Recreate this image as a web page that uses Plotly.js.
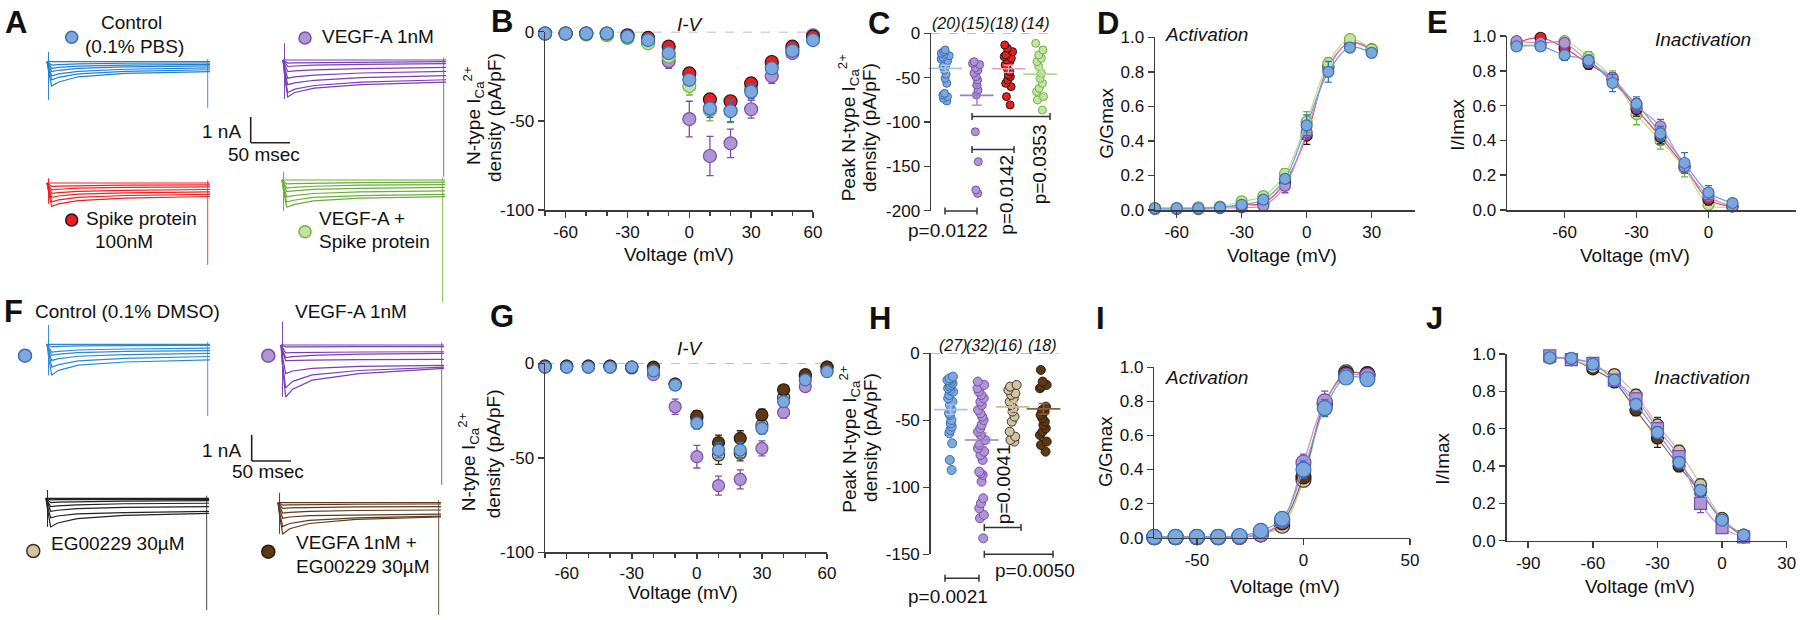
<!DOCTYPE html>
<html><head><meta charset="utf-8">
<script src="https://cdn.plot.ly/plotly-3.0.1.min.js"></script>
<style>html,body{margin:0;padding:0;background:#fff}#chart{width:1800px;height:620px}</style>
</head><body><div id="chart"></div>
<script>
// ======================= DATA =======================
// Panels A / F : representative current traces (nA) sampled at traceTime (ms)
const traceTime = [0, 2, 6, 15, 40, 100, 209];
const onsetTime = 2;
const tailTime = 206;

const aCtrlTraces = [
  [0, 0, 0, 0, 0, 0, 0],
  [0, -0.05, -0.13, -0.11, -0.08, -0.06, -0.05],
  [0, -0.10, -0.26, -0.22, -0.17, -0.13, -0.10],
  [0, -0.15, -0.38, -0.33, -0.26, -0.20, -0.16],
  [0, -0.22, -0.55, -0.47, -0.37, -0.29, -0.24],
  [0, -0.28, -0.70, -0.60, -0.47, -0.37, -0.31],
  [0, -0.38, -0.94, -0.78, -0.58, -0.45, -0.38]
];
const aVegfTraces = [
  [0, 0, 0, 0, 0, 0, 0],
  [0, -0.05, -0.12, -0.11, -0.10, -0.08, -0.06],
  [0, -0.10, -0.25, -0.23, -0.20, -0.17, -0.14],
  [0, -0.18, -0.45, -0.42, -0.38, -0.33, -0.28],
  [0, -0.28, -0.70, -0.65, -0.58, -0.50, -0.44],
  [0, -0.38, -0.95, -0.88, -0.78, -0.68, -0.60],
  [0, -0.50, -1.25, -1.12, -0.98, -0.85, -0.76],
  [0, -0.58, -1.42, -1.25, -1.08, -0.95, -0.85]
];
const aSpikeTraces = [
  [0, 0, 0, 0, 0, 0, 0],
  [0, -0.05, -0.13, -0.12, -0.10, -0.08, -0.07],
  [0, -0.10, -0.26, -0.24, -0.20, -0.17, -0.15],
  [0, -0.15, -0.40, -0.37, -0.32, -0.28, -0.25],
  [0, -0.22, -0.55, -0.50, -0.43, -0.38, -0.34],
  [0, -0.28, -0.72, -0.65, -0.55, -0.48, -0.44],
  [0, -0.36, -0.90, -0.80, -0.68, -0.58, -0.52]
];
const aComboTraces = [
  [0, 0, 0, 0, 0, 0, 0],
  [0, -0.06, -0.15, -0.14, -0.12, -0.10, -0.08],
  [0, -0.12, -0.30, -0.28, -0.24, -0.20, -0.18],
  [0, -0.18, -0.45, -0.42, -0.36, -0.32, -0.28],
  [0, -0.26, -0.65, -0.60, -0.52, -0.46, -0.42],
  [0, -0.34, -0.85, -0.78, -0.67, -0.60, -0.55],
  [0, -0.42, -1.05, -0.95, -0.80, -0.70, -0.64]
];
const fCtrlTraces = [
  [0, 0, 0, 0, 0, 0, 0],
  [0, -0.04, -0.10, -0.08, -0.06, -0.05, -0.04],
  [0, -0.12, -0.30, -0.27, -0.22, -0.18, -0.15],
  [0, -0.17, -0.42, -0.38, -0.32, -0.27, -0.24],
  [0, -0.25, -0.62, -0.55, -0.46, -0.40, -0.35],
  [0, -0.35, -0.88, -0.78, -0.64, -0.54, -0.47],
  [0, -0.48, -1.18, -1.00, -0.80, -0.68, -0.60]
];
const fVegfTraces = [
  [0, 0, 0, 0, 0, 0, 0],
  [0, -0.03, -0.07, -0.07, -0.06, -0.06, -0.06],
  [0, -0.12, -0.30, -0.29, -0.28, -0.27, -0.26],
  [0, -0.20, -0.48, -0.45, -0.40, -0.35, -0.32],
  [0, -0.25, -0.60, -0.60, -0.58, -0.56, -0.55],
  [0, -0.45, -1.10, -1.00, -0.90, -0.82, -0.78],
  [0, -0.70, -1.65, -1.40, -1.15, -0.98, -0.85],
  [0, -0.85, -2.00, -1.70, -1.35, -1.10, -0.90]
];
const fEgTraces = [
  [0, 0, 0, 0, 0, 0, 0],
  [0, -0.03, -0.06, -0.05, -0.05, -0.04, -0.04],
  [0, -0.07, -0.17, -0.15, -0.13, -0.11, -0.09],
  [0, -0.13, -0.32, -0.29, -0.25, -0.21, -0.19],
  [0, -0.20, -0.50, -0.46, -0.40, -0.35, -0.32],
  [0, -0.30, -0.75, -0.68, -0.60, -0.55, -0.50],
  [0, -0.44, -1.10, -0.95, -0.78, -0.66, -0.58]
];
const fVegfEgTraces = [
  [0, 0, 0, 0, 0, 0, 0],
  [0, -0.04, -0.09, -0.08, -0.07, -0.06, -0.05],
  [0, -0.09, -0.22, -0.20, -0.18, -0.16, -0.15],
  [0, -0.16, -0.40, -0.37, -0.33, -0.30, -0.28],
  [0, -0.24, -0.60, -0.55, -0.50, -0.47, -0.44],
  [0, -0.37, -0.92, -0.80, -0.68, -0.58, -0.52],
  [0, -0.48, -1.20, -1.00, -0.80, -0.64, -0.55]
];
// capacitive onset transient and tail current extremes (nA)
const aCtrlOnset = [0.38, -1.47],  aCtrlTail = [0.1, -1.78];
const aVegfOnset = [0.64, -1.5],   aVegfTail = [0.1, -4.49];
const aSpikeOnset = [0.18, -0.8],  aSpikeTail = [0.1, -3.15];
const aComboOnset = [0.32, -1.2],  aComboTail = [0.1, -4.7];
const fCtrlOnset = [0.74, -1.2],   fCtrlTail = [0.1, -2.76];
const fVegfOnset = [0.9, -2.0],    fVegfTail = [0.1, -5.38];
const fEgOnset = [0.32, -1.1],     fEgTail = [0.1, -4.3];
const fVegfEgOnset = [0.38, -1.2], fVegfEgTail = [0.1, -4.32];

// Panels B / G : I-V (pA/pF)
const voltIV = [-70, -60, -50, -40, -30, -20, -10, 0, 10, 20, 30, 40, 50, 60];
const bCtrl  = [-1, -1, -1, -1, -2.8, -4.7, -12, -27, -43, -44.5, -33.6, -20.5, -10.7, -4.7];
const bVegf  = [-1, -1, -1, -1.5, -2.5, -6, -16.5, -49, -69.7, -62.6, -43.5, -24.9, -12, -2];
const bSpike = [-1, -1, -1, -1, -2, -3.5, -8.4, -23.4, -38, -39, -29, -17, -8.4, -2.8];
const bCombo = [-1, -1, -1.5, -2, -3.5, -6.5, -14, -30.5, -44, -44, -32, -18, -10, -3];
const bCtrlSem  = [0.2, 0.2, 0.2, 0.2, 0.4, 0.8, 2, 3, 5, 6, 4, 3, 2, 1];
const bVegfSem  = [0.2, 0.2, 0.2, 0.3, 0.5, 1, 4, 10, 11, 8, 5, 4, 2, 1];
const bSpikeSem = [0.2, 0.2, 0.2, 0.2, 0.4, 0.8, 2, 3, 3, 3, 3, 2, 1.5, 1];
const bComboSem = [0.2, 0.2, 0.2, 0.3, 0.5, 1, 2.5, 5, 6, 7, 4, 3, 2, 1];

const gCtrl   = [-2, -2, -2, -2, -2, -4, -11.5, -31.7, -46, -45.9, -34.4, -20.3, -8.8, -4.4];
const gVegf   = [-2, -2, -2, -2, -2.5, -6, -23, -49.4, -64.7, -61.4, -45, -26, -12.3, -3.9];
const gEg     = [-1.5, -1.5, -1.5, -1.5, -2, -3, -11, -29, -48.5, -47.6, -32.6, -18, -7, -2];
const gVegfEg = [-1.5, -1.5, -1.5, -1.5, -2, -2, -11, -28, -42, -39.7, -27.3, -14, -6, -2];
const gCtrlSem   = [0.3, 0.3, 0.3, 0.3, 0.5, 0.8, 2, 3, 4, 4, 3, 2, 1, 0.5];
const gVegfSem   = [0.3, 0.3, 0.3, 0.3, 0.5, 1, 4, 6, 5, 5, 4, 3, 2, 1];
const gEgSem     = [0.3, 0.3, 0.3, 0.3, 0.5, 0.8, 2, 4, 5, 4, 3, 2, 1, 0.5];
const gVegfEgSem = [0.3, 0.3, 0.3, 0.3, 0.5, 0.8, 2, 3, 4, 4, 3, 2, 1, 0.5];

// Panels C / H : peak current density per cell (pA/pF)
const cGroups = ['Control', 'VEGF-A', 'Spike', 'VEGF-A + Spike'];
const cCtrl  = [-18.8, -20.7, -22.6, -23.7, -25.2, -27, -29, -30.8, -32.7, -35, -37.6, -41.4, -46.2, -50.8, -56.4, -67.7, -69.5, -71.4, -73.3, -76.3];
const cVegf  = [-32, -34, -35.3, -38.7, -41.4, -45, -48.9, -52.6, -58.3, -63.9, -69.5, -111, -144.7, -176.7, -180.5];
const cSpike = [-13.2, -16.9, -20.7, -24.4, -26.3, -28.2, -30.1, -32, -35.7, -39.5, -43.2, -47, -48.9, -52.6, -56.4, -60.2, -71.4, -80.8];
const cCombo = [-11.3, -18.8, -24.4, -28.2, -32, -37.6, -45.1, -50.8, -56.4, -62, -65.8, -71.4, -75.2, -86.5];
const cMeans = [-39.5, -70, -40, -46];
const cSem   = [3.5, 11, 4, 5];
const cNs    = ['(20)', '(15)', '(18)', '(14)'];
const cPvals = ['p=0.0122', 'p=0.0142', 'p=0.0353'];

const hGroups = ['Control', 'VEGF-A', 'EG00229', 'VEGFA + EG00229'];
const hCtrl = [-17.4, -18.7, -18.7, -19.9, -19.9, -21.1, -22.4, -23.6, -24.9, -26.1, -27.4, -28.6, -31.1, -33.6, -36.1, -38.6, -42.3, -44.8, -46, -49.8, -52.2, -54.7, -57.2, -59.7, -67.2, -79.6, -87.1];
const hVegf = [-21.1, -23.6, -26.1, -28.6, -31.1, -33.6, -36.1, -38.6, -42.3, -44.8, -47.3, -49.8, -53.5, -56, -58.5, -61, -64.7, -68.4, -70.9, -73.4, -75.9, -79.6, -88.3, -89.6, -90.8, -95.8, -108.2, -111.9, -115.7, -120.6, -123.1, -138.1];
const hEg = [-23.6, -24.9, -27.4, -29.9, -31.1, -33.6, -36.1, -38.6, -41, -43.5, -47.3, -51, -58.5, -62.2, -64.7, -65.9];
const hVegfEg = [-12.4, -21.1, -23.6, -24.9, -26.1, -39.8, -42.3, -43.5, -46, -48.5, -51, -53.5, -56, -58.5, -61, -65.9, -68.4, -73.4];
const hMeans = [-42, -64.7, -40, -41.5];
const hSem   = [3.5, 5, 3.5, 4];
const hNs    = ['(27)', '(32)', '(16)', '(18)'];
const hPvals = ['p=0.0021', 'p=0.0041', 'p=0.0050'];

// Panels D / I : activation (G/Gmax)
const voltAct = [-70, -60, -50, -40, -30, -20, -10, 0, 10, 20, 30];
const dCtrl  = [0.01, 0.01, 0.01, 0.015, 0.03, 0.06, 0.18, 0.49, 0.80, 0.94, 0.91];
const dVegf  = [0.005, 0.005, 0.005, 0.01, 0.015, 0.025, 0.14, 0.45, 0.82, 0.97, 0.92];
const dSpike = [0.01, 0.01, 0.01, 0.015, 0.03, 0.04, 0.16, 0.43, 0.83, 0.97, 0.93];
const dCombo = [0.01, 0.01, 0.015, 0.02, 0.05, 0.08, 0.21, 0.51, 0.85, 0.99, 0.93];
const dCtrlSem  = [0, 0, 0, 0, 0.01, 0.01, 0.02, 0.06, 0.06, 0.02, 0.01];
const dVegfSem  = [0, 0, 0, 0, 0.01, 0.01, 0.04, 0.04, 0.03, 0.01, 0.01];
const dSpikeSem = [0, 0, 0, 0, 0.01, 0.01, 0.02, 0.05, 0.03, 0.01, 0.01];
const dComboSem = [0, 0, 0, 0, 0.01, 0.01, 0.03, 0.06, 0.03, 0.01, 0.01];

const iCtrl   = [0.005, 0.005, 0.005, 0.005, 0.01, 0.04, 0.11, 0.40, 0.76, 0.94, 0.93];
const iVegf   = [0.003, 0.003, 0.003, 0.003, 0.005, 0.02, 0.10, 0.44, 0.80, 0.95, 0.95];
const iEg     = [0.003, 0.003, 0.003, 0.003, 0.005, 0.02, 0.07, 0.34, 0.78, 0.97, 0.95];
const iVegfEg = [0.003, 0.003, 0.003, 0.003, 0.005, 0.02, 0.09, 0.36, 0.79, 0.96, 0.96];
const iCtrlSem   = [0, 0, 0, 0, 0, 0.01, 0.02, 0.05, 0.05, 0.02, 0.01];
const iVegfSem   = [0, 0, 0, 0, 0, 0.01, 0.02, 0.05, 0.06, 0.02, 0.01];
const iEgSem     = [0, 0, 0, 0, 0, 0.01, 0.02, 0.04, 0.05, 0.02, 0.01];
const iVegfEgSem = [0, 0, 0, 0, 0, 0.01, 0.02, 0.04, 0.05, 0.02, 0.01];

// Panels E / J : inactivation (I/Imax)
const voltInact = [-80, -70, -60, -50, -40, -30, -20, -10, 0, 10];
const eCtrl  = [0.94, 0.94, 0.89, 0.86, 0.73, 0.61, 0.44, 0.27, 0.10, 0.04];
const eVegf  = [0.97, 0.96, 0.96, 0.85, 0.76, 0.60, 0.48, 0.25, 0.08, 0.02];
const eSpike = [0.96, 0.99, 0.93, 0.84, 0.75, 0.58, 0.42, 0.25, 0.06, 0.02];
const eCombo = [0.95, 0.95, 0.97, 0.88, 0.76, 0.55, 0.40, 0.24, 0.03, 0.02];
const eCtrlSem  = [0.01, 0.01, 0.03, 0.03, 0.05, 0.04, 0.04, 0.06, 0.04, 0.01];
const eVegfSem  = [0.01, 0.01, 0.02, 0.03, 0.03, 0.04, 0.04, 0.04, 0.03, 0.01];
const eSpikeSem = [0.01, 0.01, 0.02, 0.03, 0.03, 0.04, 0.04, 0.04, 0.03, 0.01];
const eComboSem = [0.01, 0.01, 0.02, 0.03, 0.04, 0.06, 0.05, 0.05, 0.02, 0.01];

const jCtrl   = [0.98, 0.977, 0.946, 0.86, 0.73, 0.58, 0.42, 0.27, 0.11, 0.03];
const jVegf   = [0.99, 0.97, 0.95, 0.86, 0.76, 0.60, 0.45, 0.20, 0.07, 0.02];
const jEg     = [0.98, 0.97, 0.93, 0.89, 0.78, 0.62, 0.48, 0.30, 0.12, 0.03];
const jVegfEg = [0.98, 0.97, 0.92, 0.85, 0.70, 0.55, 0.40, 0.26, 0.11, 0.02];
const jCtrlSem   = [0.01, 0.01, 0.01, 0.02, 0.03, 0.03, 0.03, 0.03, 0.02, 0.01];
const jVegfSem   = [0.01, 0.01, 0.01, 0.02, 0.03, 0.03, 0.03, 0.05, 0.02, 0.01];
const jEgSem     = [0.01, 0.01, 0.01, 0.02, 0.03, 0.04, 0.03, 0.03, 0.02, 0.01];
const jVegfEgSem = [0.01, 0.01, 0.01, 0.02, 0.03, 0.05, 0.03, 0.03, 0.02, 0.01];

// tick labels
const ivXTicks = [-60, -30, 0, 30, 60],   ivXText = ['-60', '-30', '0', '30', '60'];
const ivYTicks = [-100, -50, 0],          ivYText = ['-100', '-50', '0'];
const cYTicks = [-200, -150, -100, -50, 0], cYText = ['-200', '-150', '-100', '-50', '0'];
const hYTicks = [-150, -100, -50, 0],     hYText = ['-150', '-100', '-50', '0'];
const normTicks = [0, 0.2, 0.4, 0.6, 0.8, 1.0], normText = ['0.0', '0.2', '0.4', '0.6', '0.8', '1.0'];
const dXTicks = [-60, -30, 0, 30],  dXText = ['-60', '-30', '0', '30'];
const eXTicks = [-60, -30, 0],      eXText = ['-60', '-30', '0'];
const iXTicks = [-50, 0, 50],       iXText = ['-50', '0', '50'];
const jXTicks = [-90, -60, -30, 0, 30], jXText = ['-90', '-60', '-30', '0', '30'];

// ======================= STYLE / LAYOUT =======================
const FONT = 'Liberation Sans, Arial, Helvetica, sans-serif';
const W = 1800, H = 620;
const fx = p => p / W;
const fy = p => 1 - p / H;

const ST = {
  ctrl:   {fill: '#7EA7DB', edge: '#3570B8', fit: '#6E9FDC', mean: '#A8C4E8'},
  vegf:   {fill: '#AE95D4', edge: '#7A4DB2', fit: '#D08BD6', mean: '#9A7CC8'},
  spike:  {fill: '#EE1D1D', edge: '#1A1A1A', fit: '#E04848', mean: '#E8A0B0'},
  combo:  {fill: '#C4E2A3', edge: '#6FB43F', fit: '#B5DC8C', mean: '#B5DA92'},
  eg:     {fill: '#D2C3A3', edge: '#3B3428', fit: '#CDBE98', mean: '#CDBE98'},
  vegfEg: {fill: '#5C3815', edge: '#2F1B08', fit: '#8A6040', mean: '#8A6040'}
};

const traces = [];
const layout = {
  width: W, height: H, margin: {l: 0, r: 0, t: 0, b: 0},
  paper_bgcolor: '#ffffff', plot_bgcolor: 'rgba(0,0,0,0)', showlegend: false,
  font: {family: FONT, size: 17, color: '#111'},
  shapes: [], annotations: []
};

function axId(n) { return n === 1 ? '' : String(n); }
function addAxes(n, x0, x1, yTop, yBot, xo, yo) {
  layout['xaxis' + axId(n)] = Object.assign({}, xo, {domain: [fx(x0), fx(x1)], anchor: 'y' + axId(n)});
  layout['yaxis' + axId(n)] = Object.assign({}, yo, {domain: [fy(yBot), fy(yTop)], anchor: 'x' + axId(n)});
}
const axBase = {showline: true, linecolor: '#3c3c3c', linewidth: 1.5, ticks: 'outside', ticklen: 6,
  tickwidth: 1.5, tickcolor: '#3c3c3c', showgrid: false, zeroline: false,
  tickfont: {family: FONT, size: 17, color: '#111'}, fixedrange: true, tickmode: 'array'};
function ax(o) { return Object.assign({}, axBase, o); }

// ---------- A / F trace groups ----------
const MS_PX = 0.78, NA_PX = 26;
const traceGroups = [
  {data: aCtrlTraces,   onset: aCtrlOnset,   tail: aCtrlTail,   color: '#1F80D0', t0: 47,  y0: 61.7,  yMin: -2.0},
  {data: aVegfTraces,   onset: aVegfOnset,   tail: aVegfTail,   color: '#7B3FB5', t0: 283, y0: 60,    yMin: -4.6},
  {data: aSpikeTraces,  onset: aSpikeOnset,  tail: aSpikeTail,  color: '#F02020', t0: 47,  y0: 183,   yMin: -3.3},
  {data: aComboTraces,  onset: aComboOnset,  tail: aComboTail,  color: '#6AAE3A', t0: 282, y0: 180,   yMin: -4.8},
  {data: fCtrlTraces,   onset: fCtrlOnset,   tail: fCtrlTail,   color: '#2A8AD6', t0: 47,  y0: 344.3, yMin: -2.9},
  {data: fVegfTraces,   onset: fVegfOnset,   tail: fVegfTail,   color: '#7B3FB5', t0: 281, y0: 345,   yMin: -5.5},
  {data: fEgTraces,     onset: fEgOnset,     tail: fEgTail,     color: '#222222', t0: 46,  y0: 498.3, yMin: -4.4},
  {data: fVegfEgTraces, onset: fVegfEgOnset, tail: fVegfEgTail, color: '#5C3A1E', t0: 278, y0: 502.7, yMin: -4.4}
];
traceGroups.forEach((g, i) => {
  const n = i + 1, xr = 'x' + axId(n), yr = 'y' + axId(n);
  addAxes(n, g.t0 - 5 * MS_PX, g.t0 + 215 * MS_PX, g.y0 - NA_PX, g.y0 - g.yMin * NA_PX,
    {visible: false, range: [-5, 215], fixedrange: true},
    {visible: false, range: [g.yMin, 1], fixedrange: true});
  g.data.forEach(tr => traces.push({type: 'scatter', mode: 'lines', x: traceTime, y: tr, xaxis: xr, yaxis: yr,
    line: {color: g.color, width: 1.2}, hoverinfo: 'skip'}));
  traces.push({type: 'scatter', mode: 'lines', x: [onsetTime, onsetTime], y: g.onset, xaxis: xr, yaxis: yr,
    line: {color: g.color, width: 1}, hoverinfo: 'skip'});
  traces.push({type: 'scatter', mode: 'lines', x: [tailTime, tailTime], y: g.tail, xaxis: xr, yaxis: yr,
    line: {color: g.color, width: 1}, opacity: 0.85, hoverinfo: 'skip'});
});

// ---------- series helper ----------
function addSeries(n, x, y, sem, st, size, symbol, fit) {
  traces.push({type: 'scatter', mode: fit ? 'lines+markers' : 'markers', x: x, y: y,
    xaxis: 'x' + n, yaxis: 'y' + n, cliponaxis: false,
    line: {color: st.fit, width: 1.2, shape: 'spline', smoothing: 1},
    marker: {size: size, symbol: symbol || 'circle', color: st.fill, line: {color: st.edge, width: 1.2}},
    error_y: {type: 'data', array: sem, visible: true, color: st.edge, thickness: 1.3, width: 3.5},
    hoverinfo: 'x+y'});
}
const minorIV = {dtick: 10, tick0: 0, ticks: 'outside', ticklen: 4, tickwidth: 1.5, tickcolor: '#3c3c3c'};

// ---------- B (9) ----------
addAxes(9, 545, 813, 31.7, 210,
  ax({range: [-70, 60], tickvals: ivXTicks, ticktext: ivXText, minor: minorIV}),
  ax({range: [-100, 0], tickvals: ivYTicks, ticktext: ivYText}));
addSeries(9, voltIV, bVegf, bVegfSem, ST.vegf, 13);
addSeries(9, voltIV, bCombo, bComboSem, ST.combo, 13);
addSeries(9, voltIV, bSpike, bSpikeSem, ST.spike, 13);
addSeries(9, voltIV, bCtrl, bCtrlSem, ST.ctrl, 13);

// ---------- C (10) ----------
addAxes(10, 931, 1056, 33.3, 210.7,
  {visible: false, range: [-0.45, 3.5], fixedrange: true},
  ax({range: [-200, 0], tickvals: cYTicks, ticktext: cYText}));
function addDots(n, vals, idx, st, size, name) {
  traces.push({type: 'box', y: vals, x0: idx, name: name, xaxis: 'x' + n, yaxis: 'y' + n,
    boxpoints: 'all', jitter: 0.6, pointpos: 0, fillcolor: 'rgba(0,0,0,0)',
    line: {color: 'rgba(0,0,0,0)', width: 0}, whiskerwidth: 0,
    marker: {size: size, color: st.fill, line: {color: st.edge, width: 1}}, hoverinfo: 'y'});
}
function addMean(n, idx, mean, sem, st) {
  traces.push({type: 'scatter', mode: 'markers', x: [idx], y: [mean], xaxis: 'x' + n, yaxis: 'y' + n,
    cliponaxis: false,
    marker: {symbol: 'line-ew-open', size: 24, color: st.mean, line: {color: st.mean, width: 1.6}},
    error_y: {type: 'data', array: [sem], color: st.mean, thickness: 1.4, width: 5}, hoverinfo: 'y'});
}
const cStyles = [ST.ctrl, ST.vegf, ST.spike, ST.combo];
[cCtrl, cVegf, cSpike, cCombo].forEach((v, i) => addDots(10, v, i, cStyles[i], 8, cGroups[i]));
cMeans.forEach((m, i) => addMean(10, i, m, cSem[i], cStyles[i]));

// ---------- D (11) ----------
addAxes(11, 1155, 1415, 37.3, 210,
  ax({range: [-70, 50], tickvals: dXTicks, ticktext: dXText}),
  ax({range: [0, 1], tickvals: normTicks, ticktext: normText}));
addSeries(11, voltAct, dSpike, dSpikeSem, ST.spike, 11, 'circle', true);
addSeries(11, voltAct, dVegf, dVegfSem, ST.vegf, 11, 'circle', true);
addSeries(11, voltAct, dCombo, dComboSem, ST.combo, 11, 'circle', true);
addSeries(11, voltAct, dCtrl, dCtrlSem, ST.ctrl, 11, 'circle', true);

// ---------- E (12) ----------
addAxes(12, 1507, 1796, 36, 210,
  ax({range: [-84, 36.5], tickvals: eXTicks, ticktext: eXText}),
  ax({range: [0, 1], tickvals: normTicks, ticktext: normText}));
addSeries(12, voltInact, eCombo, eComboSem, ST.combo, 11, 'circle', true);
addSeries(12, voltInact, eSpike, eSpikeSem, ST.spike, 11, 'circle', true);
addSeries(12, voltInact, eVegf, eVegfSem, ST.vegf, 11, 'circle', true);
addSeries(12, voltInact, eCtrl, eCtrlSem, ST.ctrl, 11, 'circle', true);

// ---------- G (13) ----------
addAxes(13, 545, 827, 363.3, 552.3,
  ax({range: [-70, 60], tickvals: ivXTicks, ticktext: ivXText, minor: minorIV, ticklen: 5}),
  ax({range: [-100, 0], tickvals: ivYTicks, ticktext: ivYText}));
addSeries(13, voltIV, gVegf, gVegfSem, ST.vegf, 12);
addSeries(13, voltIV, gEg, gEgSem, ST.eg, 12);
addSeries(13, voltIV, gVegfEg, gVegfEgSem, ST.vegfEg, 12);
addSeries(13, voltIV, gCtrl, gCtrlSem, ST.ctrl, 12);

// ---------- H (14) ----------
addAxes(14, 930.7, 1059, 353.3, 554.3,
  {visible: false, range: [-0.65, 3.5], fixedrange: true},
  ax({range: [-150, 0], tickvals: hYTicks, ticktext: hYText}));
const hStyles = [ST.ctrl, ST.vegf, ST.eg, ST.vegfEg];
[hCtrl, hVegf, hEg, hVegfEg].forEach((v, i) => addDots(14, v, i, hStyles[i], 9, hGroups[i]));
hMeans.forEach((m, i) => addMean(14, i, m, hSem[i], hStyles[i]));

// ---------- I (15) ----------
addAxes(15, 1154.3, 1410, 367.3, 537.7,
  ax({range: [-70, 50], tickvals: iXTicks, ticktext: iXText}),
  ax({range: [0, 1], tickvals: normTicks, ticktext: normText}));
addSeries(15, voltAct, iEg, iEgSem, ST.eg, 15, 'circle', true);
addSeries(15, voltAct, iVegfEg, iVegfEgSem, ST.vegfEg, 15, 'circle', true);
addSeries(15, voltAct, iVegf, iVegfSem, ST.vegf, 15, 'circle', true);
addSeries(15, voltAct, iCtrl, iCtrlSem, ST.ctrl, 15, 'circle', true);

// ---------- J (16) ----------
addAxes(16, 1506.7, 1786.7, 354, 540.7,
  ax({range: [-100, 30], tickvals: jXTicks, ticktext: jXText}),
  ax({range: [0, 1], tickvals: normTicks, ticktext: normText}));
addSeries(16, voltInact, jVegfEg, jVegfEgSem, ST.vegfEg, 12, 'circle', true);
addSeries(16, voltInact, jEg, jEgSem, ST.eg, 12, 'circle', true);
addSeries(16, voltInact, jVegf, jVegfSem, ST.vegf, 12, 'square', true);
addSeries(16, voltInact, jCtrl, jCtrlSem, ST.ctrl, 12, 'circle', true);

// ---------- shapes ----------
const S = layout.shapes;
function dashedZero(n, x1) {
  S.push({type: 'line', xref: 'x' + n + ' domain', yref: 'y' + n, x0: 0, x1: x1, y0: 0, y1: 0,
    line: {color: '#AAAAAA', width: 1.6, dash: 'dash'}, layer: 'below'});
}
dashedZero(9, 1); dashedZero(13, 1); dashedZero(10, 0.93); dashedZero(14, 1);
function pline(x0, y0, x1, y1, color, w) {
  S.push({type: 'line', xref: 'paper', yref: 'paper', x0: fx(x0), y0: fy(y0), x1: fx(x1), y1: fy(y1),
    line: {color: color || '#333', width: w || 1.5}});
}
function bracket(x0, x1, y) { pline(x0, y, x1, y); pline(x0, y - 3.5, x0, y + 3.5); pline(x1, y - 3.5, x1, y + 3.5); }
bracket(945, 977, 211); bracket(972, 1014, 149.5); bracket(972, 1050, 116.5);
bracket(945, 979, 578.3); bracket(984.3, 1021, 527.5); bracket(984.3, 1053, 554.3);
// scale bars
pline(250.7, 117, 250.7, 142.7, '#222', 1.6); pline(250.7, 142.7, 290, 142.7, '#222', 1.6);
pline(251.7, 435, 251.7, 461, '#222', 1.6); pline(251.7, 461, 291, 461, '#222', 1.6);
function dot(cx, cy, d, st) {
  S.push({type: 'circle', xref: 'paper', yref: 'paper', x0: fx(cx - d / 2), x1: fx(cx + d / 2),
    y0: fy(cy + d / 2), y1: fy(cy - d / 2), fillcolor: st.fill, line: {color: st.edge, width: 1.5}});
}
dot(71.7, 37.3, 12, ST.ctrl); dot(305, 38, 12, ST.vegf); dot(71.7, 220, 12, ST.spike); dot(305, 231.7, 12, ST.combo);
dot(25, 355.7, 13, ST.ctrl); dot(268.3, 355.7, 13, ST.vegf); dot(33.3, 551, 13, ST.eg); dot(268.3, 551.7, 13, ST.vegfEg);

// ---------- text ----------
const A = layout.annotations;
function txt(text, x, y, o) {
  o = o || {};
  A.push({text: text, x: fx(x), y: fy(y), xref: 'paper', yref: 'paper', showarrow: false,
    xanchor: o.xa || 'center', yanchor: o.ya || 'middle', textangle: o.rot || 0,
    font: {family: FONT, size: o.size || 19, color: '#111'}});
}
// panel letters
[['A', 16, 22], ['B', 502, 21], ['C', 879, 23], ['D', 1108, 24], ['E', 1437, 22],
 ['F', 13, 312], ['G', 502, 317], ['H', 880, 318], ['I', 1100, 318], ['J', 1434, 318]]
  .forEach(p => txt('<b>' + p[0] + '</b>', p[1], p[2], {size: 31}));
// legends A
txt('Control', 131.7, 22); txt('(0.1% PBS)', 134, 46.7);
txt('VEGF-A 1nM', 320, 36, {xa: 'left'});
txt('Spike protein', 84, 218.3, {xa: 'left'}); txt('100nM', 124, 241.7);
txt('VEGF-A +', 316.7, 218.3, {xa: 'left'}); txt('Spike protein', 316.7, 241.7, {xa: 'left'});
txt('1 nA', 243, 131.7, {xa: 'right'}); txt('50 msec', 264.3, 154);
// legends F
txt('Control (0.1% DMSO)', 33, 312, {xa: 'left'});
txt('VEGF-A 1nM', 293, 312, {xa: 'left'});
txt('EG00229 30µM', 49, 543.3, {xa: 'left'});
txt('VEGFA 1nM +', 294, 542.3, {xa: 'left'}); txt('EG00229 30µM', 294, 566.7, {xa: 'left'});
txt('1 nA', 243, 450, {xa: 'right'}); txt('50 msec', 267.8, 472);
// I-V labels
txt('<i>I-V</i>', 690, 25); txt('<i>I-V</i>', 690, 348);
// axis titles
const IV_T1 = 'N-type I<sub>Ca</sub><sup>2+</sup>', IV_T2 = 'density (pA/pF)';
txt(IV_T1, 473, 116, {rot: -90}); txt(IV_T2, 495, 118, {rot: -90});
txt('Peak ' + IV_T1, 848.3, 127, {rot: -90}); txt(IV_T2, 870, 128, {rot: -90});
txt(IV_T1, 468.3, 462, {rot: -90}); txt(IV_T2, 493.3, 454, {rot: -90});
txt('Peak ' + IV_T1, 850, 438.7, {rot: -90}); txt(IV_T2, 870, 438, {rot: -90});
txt('G/Gmax', 1106.7, 123, {rot: -90}); txt('I/Imax', 1456.7, 125, {rot: -90});
txt('G/Gmax', 1105, 452, {rot: -90}); txt('I/Imax', 1441.7, 459, {rot: -90});
[[679, 254], [1281.7, 255], [1635, 255], [683, 592], [1285, 586.7], [1640, 586.7]]
  .forEach(p => txt('Voltage (mV)', p[0], p[1]));
txt('<i>Activation</i>', 1163, 35, {xa: 'left'}); txt('<i>Inactivation</i>', 1653, 40, {xa: 'left'});
txt('<i>Activation</i>', 1163, 378, {xa: 'left'}); txt('<i>Inactivation</i>', 1652, 378, {xa: 'left'});
// n labels
[946, 975, 1004, 1035].forEach((x, i) => txt('<i>' + cNs[i] + '</i>', x, 24, {size: 16}));
[953, 980, 1008.3, 1041.7].forEach((x, i) => txt('<i>' + hNs[i] + '</i>', x, 345.5, {size: 16}));
// p-values
txt(cPvals[0], 948, 230); txt(cPvals[1], 1006.7, 195, {rot: -90}); txt(cPvals[2], 1039.3, 164, {rot: -90});
txt(hPvals[0], 948, 596.7); txt(hPvals[1], 1003.3, 484, {rot: -90}); txt(hPvals[2], 993, 570, {xa: 'left'});

Plotly.newPlot('chart', traces, layout, {staticPlot: true, displayModeBar: false});
</script>
</body></html>
